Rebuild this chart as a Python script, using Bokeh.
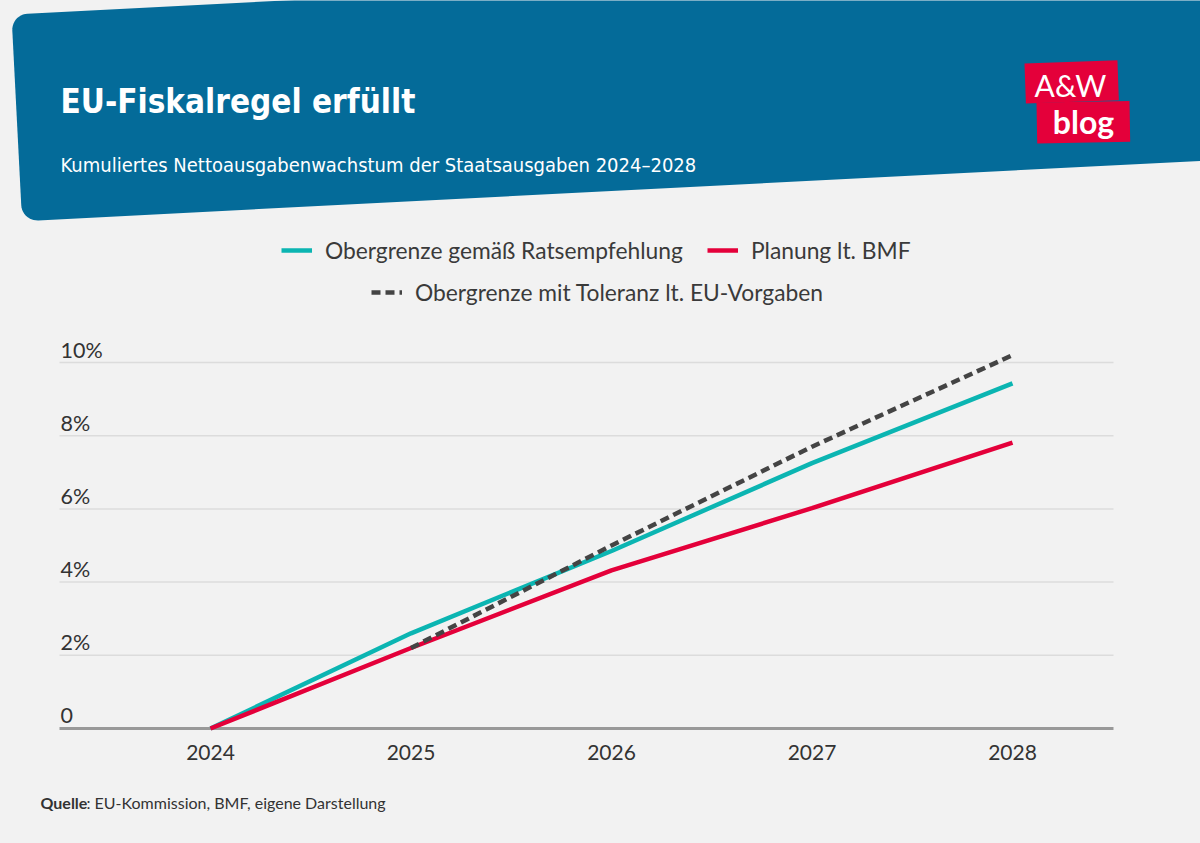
import numpy as np
from bokeh.plotting import figure
from bokeh.layouts import column
from bokeh.models import Range1d, Legend, LegendItem, FixedTicker, ColumnDataSource
from bokeh.core.properties import value
from bokeh.embed import file_html
from bokeh.resources import INLINE

# ---------------- data ----------------
years = [2024, 2025, 2026, 2027, 2028]
obergrenze_rat = [0.0, 2.6, 4.85, 7.25, 9.43]
planung_bmf = [0.0, 2.2, 4.32, 6.02, 7.81]
years_toleranz = [2025, 2026, 2027, 2028]
obergrenze_toleranz = [2.2, 5.0, 7.7, 10.2]

y_ticks = [0, 2, 4, 6, 8, 10]
y_tick_labels = ["0", "2%", "4%", "6%", "8%", "10%"]

title_text = "EU-Fiskalregel erfüllt"
subtitle_text = "Kumuliertes Nettoausgabenwachstum der Staatsausgaben 2024\u20132028"
legend_labels = ["Obergrenze gemäß Ratsempfehlung", "Planung lt. BMF",
                 "Obergrenze mit Toleranz lt. EU-Vorgaben"]
source_bold = "Quelle"
source_rest = ": EU-Kommission, BMF, eigene Darstellung"

# ---------------- style ----------------
BG = "#f2f2f2"
BLUE = "#046b99"
TEAL = "#0bb5b2"
RED = "#e4003a"
DARK = "#444444"
TXT = "#333333"
FONT = "Lato"
NARROW = "DejaVu Sans Condensed"

W = 1200
H_HEAD = 225
FRAME_H = 731 - H_HEAD
AXIS_H = 40
H_CHART = FRAME_H + AXIS_H
H_FOOT = 843 - H_HEAD - H_CHART


def plain_fig(h):
    f = figure(width=W, height=h, x_range=Range1d(0, W), y_range=Range1d(h, 0),
               output_backend="svg", toolbar_location=None, min_border=0,
               min_border_left=0, min_border_right=0, min_border_top=0, min_border_bottom=0)
    f.axis.visible = False
    f.grid.visible = False
    f.outline_line_color = None
    f.background_fill_color = BG
    f.border_fill_color = BG
    return f


def rounded_rect(x0, y0, w, h, r, ang_deg, n=12):
    a = np.deg2rad(ang_deg)
    u = np.array([np.cos(a), -np.sin(a)])
    v = np.array([np.sin(a), np.cos(a)])
    pts = []
    corners = [(r, r, np.pi, 1.5 * np.pi), (w - r, r, 1.5 * np.pi, 2 * np.pi),
               (w - r, h - r, 0, 0.5 * np.pi), (r, h - r, 0.5 * np.pi, np.pi)]
    for cs, ct, t0, t1 in corners:
        for t in np.linspace(t0, t1, n):
            s = cs + r * np.cos(t)
            tt = ct + r * np.sin(t)
            pts.append(np.array([x0, y0]) + s * u + tt * v)
    pts = np.array(pts)
    return list(pts[:, 0]), list(pts[:, 1])


# ---------------- header ----------------
head = plain_fig(H_HEAD)
bx, by = rounded_rect(11, 14, 1400, 207, 16, 2.93)
head.patch(bx, by, fill_color=BLUE, line_color=None)

lx1, ly1 = rounded_rect(1024, 63, 93, 40, 0, 2.0, n=2)
head.patch(lx1, ly1, fill_color=RED, line_color=None)
lx2, ly2 = rounded_rect(1036, 102, 93, 41, 0, 1.0, n=2)
head.patch(lx2, ly2, fill_color=RED, line_color=None)

head.text(x=[1070], y=[84], text=["A&W"], text_font=value(FONT), text_font_size="30px",
          text_color="white", text_align="center", text_baseline="middle")
head.text(x=[1083], y=[121], text=["blog"], text_font=value(FONT), text_font_style="bold",
          text_font_size="32px", text_color="white", text_align="center", text_baseline="middle")
head.text(x=[60], y=[101], text=[title_text], text_font=value(NARROW), text_font_style="bold",
          text_font_size="33px", text_color="white", text_baseline="alphabetic")
head.text(x=[60], y=[164], text=[subtitle_text], text_font=value(NARROW),
          text_font_size="20px", text_color="white", text_baseline="alphabetic")

# ---------------- chart ----------------
PX_YEAR = 200.5
PX_PCT = 36.6
x0 = 2024 - 210 / PX_YEAR
x1 = x0 + W / PX_YEAR
y0 = -3 / PX_PCT
y1 = y0 + FRAME_H / PX_PCT
gx0 = 2024 - (210 - 59) / PX_YEAR
gx1 = 2028 + (1113 - 1012) / PX_YEAR

p = figure(width=W, height=H_CHART, x_range=Range1d(x0, x1), y_range=Range1d(y0, y1),
           output_backend="svg", toolbar_location=None, min_border=0,
           min_border_left=0, min_border_right=0, min_border_top=0, min_border_bottom=AXIS_H)
p.background_fill_color = BG
p.border_fill_color = BG
p.outline_line_color = None
p.yaxis.visible = False
p.grid.visible = False

p.xaxis.ticker = FixedTicker(ticks=years)
p.xaxis.axis_line_color = None
p.xaxis.major_tick_line_color = None
p.xaxis.minor_tick_line_color = None
p.xaxis.major_label_text_font = FONT
p.xaxis.major_label_text_font_size = "21px"
p.xaxis.major_label_text_color = TXT
p.xaxis.major_label_standoff = 7

# gridlines and baseline
grid_src = ColumnDataSource(dict(x0=[gx0] * (len(y_ticks) - 1), x1=[gx1] * (len(y_ticks) - 1),
                                 y=y_ticks[1:]))
p.segment(x0="x0", x1="x1", y0="y", y1="y", source=grid_src, line_color="#dcdcdc", line_width=1.5)
p.segment(x0=[gx0], x1=[gx1], y0=[y_ticks[0]], y1=[y_ticks[0]], line_color="#999999", line_width=3)

src_y = ColumnDataSource(dict(x=[gx0] * len(y_ticks), y=y_ticks, t=y_tick_labels))
p.text(x="x", y="y", text="t", source=src_y, text_font=value(FONT), text_font_size="21.5px",
       text_color=TXT, text_align="left", text_baseline="alphabetic", x_offset=1, y_offset=-13)

r_teal = p.line(years, obergrenze_rat, line_color=TEAL, line_width=4.5)
r_red = p.line(years, planung_bmf, line_color=RED, line_width=4.5)
r_tol = p.line(years_toleranz, obergrenze_toleranz, line_color=DARK, line_width=4.5,
               line_dash="9 5")


def mk_legend(items, loc):
    return Legend(items=items, location=loc, orientation="horizontal",
                  background_fill_alpha=0, border_line_color=None, padding=0, margin=0,
                  spacing=24, label_standoff=13, glyph_width=31, glyph_height=26,
                  label_height=26, label_text_font=FONT, label_text_font_size="22.8px",
                  label_text_color="#3a3a3a")


leg1 = mk_legend([LegendItem(label=legend_labels[0], renderers=[r_teal]),
                  LegendItem(label=legend_labels[1], renderers=[r_red])], (281, FRAME_H - 39))
leg2 = mk_legend([LegendItem(label=legend_labels[2], renderers=[r_tol])], (371, FRAME_H - 81))
p.add_layout(leg1)
p.add_layout(leg2)

# ---------------- footer ----------------
foot = plain_fig(H_FOOT)
fy = 802 - H_HEAD - H_CHART
foot.text(x=[40], y=[fy], text=[source_bold], text_font=value(FONT), text_font_style="bold",
          text_font_size="16px", text_color=TXT, text_baseline="middle")
foot.text(x=[86], y=[fy], text=[source_rest], text_font=value(FONT), text_font_size="16px",
          text_color=TXT, text_baseline="middle")

layout = column(head, p, foot, spacing=0, styles={"background-color": BG})
open("out.html", "w").write(file_html(layout, INLINE))
